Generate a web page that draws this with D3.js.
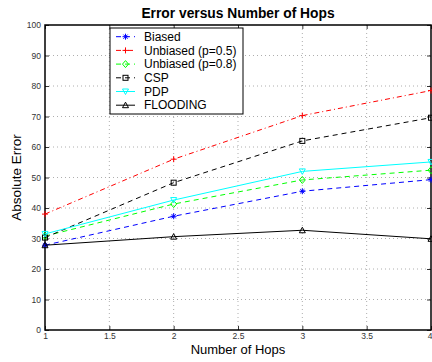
<!DOCTYPE html>
<html><head><meta charset="utf-8">
<script src="https://cdn.jsdelivr.net/npm/d3@7"></script>
<style>body{margin:0;background:#fff;} text{font-family:"Liberation Sans",Arial,sans-serif;}</style>
</head><body><svg id="c" width="432" height="362"></svg>
<script>
const hops = [1, 2, 3, 4];
const biased = [27.8, 37.3, 45.5, 49.3];
const unbiased05 = [38.0, 56.0, 70.3, 78.5];
const unbiased08 = [30.8, 41.3, 49.2, 52.4];
const csp = [30.3, 48.3, 62.0, 69.6];
const pdp = [31.5, 42.6, 52.0, 55.1];
const flooding = [27.8, 30.6, 32.7, 29.9];
const seriesNames = ["Biased", "Unbiased (p=0.5)", "Unbiased (p=0.8)", "CSP", "PDP", "FLOODING"];
const xTicks = [1, 1.5, 2, 2.5, 3, 3.5, 4];
const yTicks = [0, 10, 20, 30, 40, 50, 60, 70, 80, 90, 100];

const series = [
  {name: seriesNames[0], vals: biased, color: "#0000ff", dash: "5,4", marker: "star"},
  {name: seriesNames[1], vals: unbiased05, color: "#ff0000", dash: "5,3,1,3", marker: "plus"},
  {name: seriesNames[2], vals: unbiased08, color: "#00ff00", dash: "5,4", marker: "diamond"},
  {name: seriesNames[3], vals: csp, color: "#000000", dash: "5,4", marker: "square"},
  {name: seriesNames[4], vals: pdp, color: "#00ffff", dash: null, marker: "tdown"},
  {name: seriesNames[5], vals: flooding, color: "#000000", dash: null, marker: "tup"}
];

const L = 45, R = 431, T = 25, B = 330;
const svg = d3.select("#c");
const x = d3.scaleLinear().domain([1, 4]).range([L, R]);
const y = d3.scaleLinear().domain([0, 100]).range([B, T]);

// grid
const g = svg.append("g");
g.selectAll(".gx").data(xTicks.slice(1, -1)).enter().append("line")
  .attr("x1", d => x(d)).attr("x2", d => x(d)).attr("y1", T).attr("y2", B)
  .attr("stroke", "#999").attr("stroke-width", 0.8).attr("stroke-dasharray", "1,3");
g.selectAll(".gy").data(yTicks.slice(1, -1)).enter().append("line")
  .attr("y1", d => y(d)).attr("y2", d => y(d)).attr("x1", L).attr("x2", R)
  .attr("stroke", "#999").attr("stroke-width", 0.8).attr("stroke-dasharray", "1,3");

// axes
const xAxis = d3.axisBottom(x).tickValues(xTicks).tickSize(-4).tickPadding(3).tickFormat(d3.format("~g"));
const yAxis = d3.axisLeft(y).tickValues(yTicks).tickSize(-4).tickPadding(4);
const xa = svg.append("g").attr("transform", `translate(0,${B})`).call(xAxis);
const ya = svg.append("g").attr("transform", `translate(${L},0)`).call(yAxis);
const xt = svg.append("g").attr("transform", `translate(0,${T})`).call(d3.axisTop(x).tickValues(xTicks).tickSize(-4).tickFormat(""));
const yr = svg.append("g").attr("transform", `translate(${R},0)`).call(d3.axisRight(y).tickValues(yTicks).tickSize(-4).tickFormat(""));
[xa, ya, xt, yr].forEach(a => {
  a.select(".domain").remove();
  a.selectAll("line").attr("stroke", "#000").attr("stroke-width", 0.8);
  a.selectAll("text").attr("font-size", 8.5).attr("fill", "#333").style("font-family", "Liberation Sans, Arial, sans-serif");
});
xa.selectAll("text").attr("dy", "0.71em");
// last x label sits at the window edge; keep it fully visible
xa.selectAll("text").filter(d => d === 4).attr("text-anchor", "end").attr("dx", 1);
svg.append("rect").attr("x", L).attr("y", T).attr("width", R - L).attr("height", B - T)
  .attr("fill", "none").attr("stroke", "#000").attr("stroke-width", 1.5);

function drawMarker(sel, type, color, cx, cy) {
  const m = sel.append("g").attr("transform", `translate(${cx},${cy})`)
    .attr("stroke", color).attr("stroke-width", 1).attr("fill", "none");
  const s = 3;
  if (type === "plus" || type === "star") {
    m.append("path").attr("d", `M${-s},0H${s}M0,${-s}V${s}`);
    if (type === "star") m.append("path").attr("d", `M${-s*0.7},${-s*0.7}L${s*0.7},${s*0.7}M${-s*0.7},${s*0.7}L${s*0.7},${-s*0.7}`);
  } else if (type === "diamond") {
    m.append("path").attr("d", `M0,${-s-0.5}L${s},0L0,${s+0.5}L${-s},0Z`);
  } else if (type === "square") {
    m.append("rect").attr("x", -2.5).attr("y", -2.5).attr("width", 5).attr("height", 5);
  } else if (type === "tdown") {
    m.append("path").attr("d", `M${-s},${-s+0.5}L${s},${-s+0.5}L0,${s}Z`);
  } else if (type === "tup") {
    m.append("path").attr("d", `M${-s},${s-0.5}L${s},${s-0.5}L0,${-s}Z`);
  }
}

const line = d3.line().x((d, i) => x(hops[i])).y(d => y(d));
const plot = svg.append("g");
series.forEach(s => {
  plot.append("path").datum(s.vals).attr("d", line).attr("fill", "none")
    .attr("stroke", s.color).attr("stroke-width", 1)
    .attr("stroke-dasharray", s.dash);
  s.vals.forEach((v, i) => drawMarker(plot, s.marker, s.color, x(hops[i]), y(v)));
});

// legend
const lg = svg.append("g");
lg.append("rect").attr("x", 110).attr("y", 28).attr("width", 133).attr("height", 86)
  .attr("fill", "#fff").attr("stroke", "#000").attr("stroke-width", 1);
series.forEach((s, i) => {
  const yy = 36.7 + i * 13.7;
  lg.append("line").attr("x1", 116).attr("x2", 135).attr("y1", yy).attr("y2", yy)
    .attr("stroke", s.color).attr("stroke-width", 1).attr("stroke-dasharray", s.dash);
  drawMarker(lg, s.marker, s.color, 125.5, yy);
  lg.append("text").attr("x", 144).attr("y", yy).attr("dy", "0.35em")
    .attr("font-size", 12).attr("fill", "#000").text(s.name);
});

svg.append("text").attr("x", (L + R) / 2).attr("y", 18).attr("text-anchor", "middle")
  .attr("font-size", 13.8).attr("font-weight", "bold").text("Error versus Number of Hops");
svg.append("text").attr("x", (L + R) / 2).attr("y", 354).attr("text-anchor", "middle")
  .attr("font-size", 13).text("Number of Hops");
svg.append("text").attr("transform", `translate(21,${(T + B) / 2}) rotate(-90)`)
  .attr("text-anchor", "middle").attr("font-size", 13.5).text("Absolute Error");
</script></body></html>
